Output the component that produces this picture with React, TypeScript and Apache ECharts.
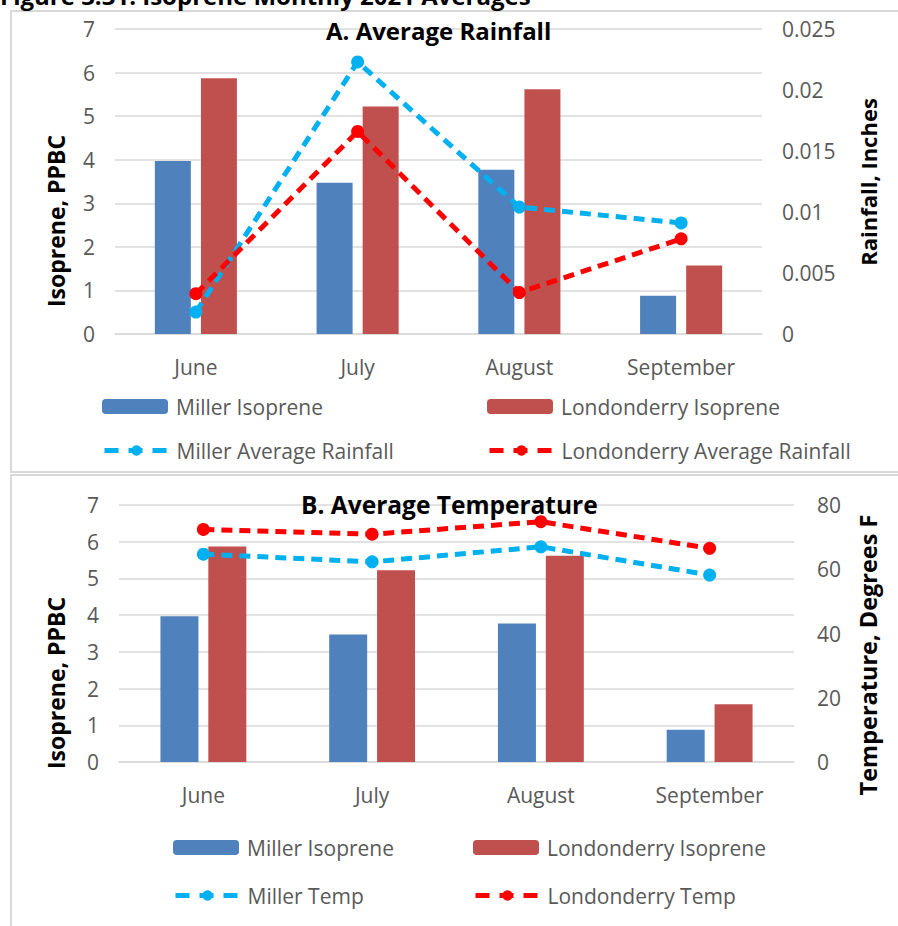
import React, { useEffect, useRef } from "react";
import * as echarts from "echarts";

const categories = ["June", "July", "August", "September"];
const millerIsoprene = [3.97, 3.47, 3.77, 0.88];
const londonderryIsoprene = [5.87, 5.22, 5.62, 1.57];
const millerRainfall = [0.0018, 0.0223, 0.0104, 0.0091];
const londonderryRainfall = [0.0033, 0.0166, 0.0034, 0.0078];
const millerTemp = [64.7, 62.3, 67.0, 58.2];
const londonderryTemp = [72.4, 70.9, 74.8, 66.5];

const isopreneTicks = { min: 0, max: 7, interval: 1 };
const rainTicks = { min: 0, max: 0.025, interval: 0.005 };
const tempTicks = { min: 0, max: 80, interval: 20 };

const FONT = "Open Sans";
const GRAY = "#595959";
const GRID = "#d9d9d9";
const BLUE_BAR = "#4F81BD";
const RED_BAR = "#C0504D";
const BLUE_LINE = "#00B0F0";
const RED_LINE = "#FF0000";

export default function App() {
  const ref = useRef<HTMLDivElement>(null);
  useEffect(() => {
    document.body.style.margin = "0";
    const chart = echarts.init(ref.current!, null, { renderer: "svg" });
    const tickLabel = { color: GRAY, fontSize: 21, fontFamily: FONT };
    const leftAxis = (gridIndex: number) => ({
      type: "value",
      gridIndex,
      ...isopreneTicks,
      position: "left",
      axisLine: { show: false },
      axisTick: { show: false },
      axisLabel: { ...tickLabel, margin: 20 },
      splitLine: { lineStyle: { color: GRID, width: 1.5 } },
    });
    const xAxis = (gridIndex: number) => ({
      type: "category",
      gridIndex,
      data: categories,
      axisLine: { lineStyle: { color: GRID, width: 1.5 } },
      axisTick: { show: false },
      axisLabel: { ...tickLabel, margin: 22 },
    });
    const dash = [11, 7];
    const lineSeries = (name: string, data: number[], color: string, xi: number, yi: number) => ({
      type: "line",
      name,
      data,
      xAxisIndex: xi,
      yAxisIndex: yi,
      symbol: "circle",
      symbolSize: 13,
      itemStyle: { color },
      lineStyle: { color, width: 5, type: dash },
      z: 5,
    });
    const barSeries = (name: string, data: number[], color: string, xi: number, yi: number, w: number, gap: string) => ({
      type: "bar",
      name,
      data,
      xAxisIndex: xi,
      yAxisIndex: yi,
      barWidth: w,
      barGap: gap,
      itemStyle: { color },
    });
    const legend = (name: string, left: number, top: number, isBar: boolean) => ({
      data: [name],
      left,
      top,
      padding: 0,
      itemWidth: isBar ? 66 : 64,
      itemHeight: isBar ? 15 : 13,
      itemGap: 8,
      ...(isBar ? {} : { lineStyle: { width: 5, type: [14, 10] } }),
      textStyle: { color: GRAY, fontSize: 21, fontFamily: FONT, padding: [0, 0, 0, 3] },
      selectedMode: false,
    });
    const axisName = (text: string, x: number, y: number, size: number) => ({
      type: "text",
      x,
      y,
      rotation: Math.PI / 2,
      style: {
        text,
        fill: "#000",
        font: `bold ${size}px "${FONT}"`,
        align: "center",
        verticalAlign: "middle",
      },
    });

    chart.setOption({
      animation: false,
      backgroundColor: "#fff",
      title: [
        {
          text: "A. Average Rainfall",
          left: 326,
          top: 18,
          padding: 0,
          textStyle: { color: "#000", fontSize: 24, fontWeight: "bold", fontFamily: FONT },
        },
        {
          text: "B. Average Temperature",
          left: 301,
          top: 492,
          padding: 0,
          textStyle: { color: "#000", fontSize: 24.5, fontWeight: "bold", fontFamily: FONT },
        },
      ],
      graphic: [
        {
          type: "rect",
          shape: { x: 11, y: 11, width: 900, height: 461 },
          style: { fill: "none", stroke: GRID, lineWidth: 2 },
          z: -1,
        },
        {
          type: "rect",
          shape: { x: 11, y: 475, width: 900, height: 500 },
          style: { fill: "none", stroke: GRID, lineWidth: 2 },
          z: -1,
        },
        {
          type: "text",
          x: 0,
          y: -17,
          style: {
            text: "Figure 3.31. Isoprene Monthly 2021 Averages",
            fill: "#000",
            font: `bold 24px "${FONT}"`,
            verticalAlign: "top",
          },
        },
        axisName("Isoprene, PPBC", 56, 221, 23),
        axisName("Rainfall, Inches", 868, 182, 22),
        axisName("Isoprene, PPBC", 56, 683, 23),
        axisName("Temperature, Degrees F", 868, 655, 23.5),
      ],
      legend: [
        legend("Miller Isoprene", 102, 396, true),
        legend("Londonderry Isoprene", 487, 396, true),
        legend("Miller Average Rainfall", 102, 440, false),
        legend("Londonderry Average Rainfall", 487, 440, false),
        legend("Miller Isoprene", 173, 837, true),
        legend("Londonderry Isoprene", 473, 837, true),
        legend("Miller Temp", 173, 885, false),
        legend("Londonderry Temp", 473, 885, false),
      ],
      grid: [
        { left: 115, top: 29, width: 647, height: 305 },
        { left: 119, top: 505, width: 675, height: 257 },
      ],
      xAxis: [xAxis(0), xAxis(1)],
      yAxis: [
        leftAxis(0),
        {
          type: "value",
          gridIndex: 0,
          ...rainTicks,
          position: "right",
          axisLine: { show: false },
          axisTick: { show: false },
          axisLabel: { ...tickLabel, margin: 20, formatter: (v: number) => String(+v.toFixed(3)) },
          splitLine: { show: false },
        },
        leftAxis(1),
        {
          type: "value",
          gridIndex: 1,
          ...tempTicks,
          position: "right",
          axisLine: { show: false },
          axisTick: { show: false },
          axisLabel: { ...tickLabel, margin: 23 },
          splitLine: { show: false },
        },
      ],
      series: [
        barSeries("Miller Isoprene", millerIsoprene, BLUE_BAR, 0, 0, 36, "28%"),
        barSeries("Londonderry Isoprene", londonderryIsoprene, RED_BAR, 0, 0, 36, "28%"),
        lineSeries("Miller Average Rainfall", millerRainfall, BLUE_LINE, 0, 1),
        lineSeries("Londonderry Average Rainfall", londonderryRainfall, RED_LINE, 0, 1),
        barSeries("Miller Isoprene", millerIsoprene, BLUE_BAR, 1, 2, 38, "26%"),
        barSeries("Londonderry Isoprene", londonderryIsoprene, RED_BAR, 1, 2, 38, "26%"),
        lineSeries("Miller Temp", millerTemp, BLUE_LINE, 1, 3),
        lineSeries("Londonderry Temp", londonderryTemp, RED_LINE, 1, 3),
      ],
    });
    return () => chart.dispose();
  }, []);
  return <div ref={ref} style={{ width: 898, height: 926 }} />;
}
